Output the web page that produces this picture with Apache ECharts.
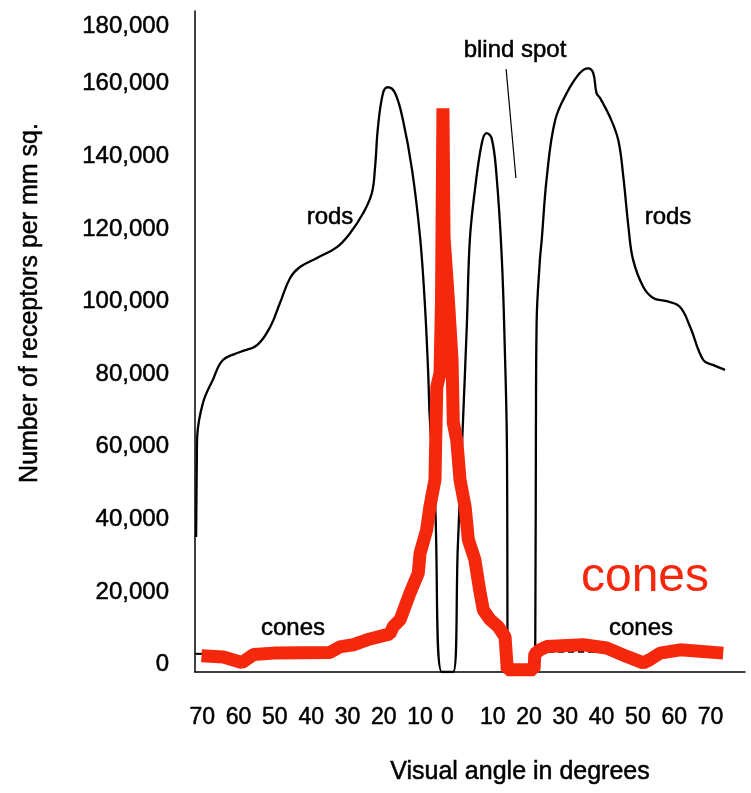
<!DOCTYPE html>
<html>
<head>
<meta charset="utf-8">
<script src="https://cdn.jsdelivr.net/npm/echarts@6/dist/echarts.min.js"></script>
<style>
  html, body { margin: 0; padding: 0; background: #fff; }
  #main { width: 751px; height: 793px; }
</style>
</head>
<body>
<div id="main"></div>
<script>
// visual angle in degrees (left side negative), density in receptors per mm sq.
var rodsAngle = [-71.7, -71.5, -71.4, -69.8, -67.1, -64.3, -59.6, -54.9, -51.3, -48.6, -45.8, -43.1, -38.4, -32.9, -29.3, -25.7,
  -23.3, -22.4, -21.6, -20.2, -18.9, -16.9, -14.7, -12.2, -10.0, -8.7, -7.8, -7.3, -5.9, -4.0, -0.9, 0.4, 1.8, 2.9, 3.7, 5.1,
  7.0, 8.3, 9.7, 11.0, 12.5, 13.4, 13.9, 14.3, 21.7, 21.9, 22.1, 23.0, 23.5, 24.9, 27.2, 30.4, 34.0, 36.3, 37.7, 38.6, 39.6,
  42.3, 44.6, 46.0, 47.4, 48.7, 51.5, 54.2, 57.9, 61.6, 64.4, 68.0, 70.8, 74.0];
var rodsDensity = [35200, 56400, 62700, 72100, 78400, 83900, 86100, 88000, 93000, 99600, 106500, 109500, 112000, 115000, 118800, 124300,
  129800, 137000, 148000, 157400, 159000, 157400, 149900, 136200, 117700, 99600, 81200, 67400, 45400, -2000, -2000, 32700, 66600, 94100, 116900, 130700,
  143600, 146400, 145000, 135400, 112200, 84700, 61900, -2000, -2000, 61900, 94100, 111400, 116900, 134200, 149900, 157400, 162900, 164200, 162900, 157400, 156000,
  150800, 144400, 134200, 120500, 111400, 104000, 101000, 100100, 98500, 93000, 83900, 82500, 81200];

var conesAngle = [-70.2, -64.2, -59.1, -55.9, -50.4, -34.8, -32.1, -28.4, -23.8, -18.3, -17.4, -15.5, -12.8, -10.5, -10.0, -8.2,
  -7.3, -5.9, -5.4, -4.5, -4.1, -3.7, -3.4, -2.2, -1.2, -0.85, 0.1, 1.0, 2.4, 3.3, 5.1, 6.4, 7.4, 9.3, 11.5, 13.4, 13.9,
  14.0, 21.4, 21.6, 23.0, 24.9, 34.9, 41.4, 46.9, 51.5, 53.3, 56.1, 61.6, 73.5];
var conesDensity = [2500, 2100, 600, 2800, 3200, 3400, 4900, 5500, 7100, 8500, 10500, 12400, 19700, 25200, 30700, 37100,
  43500, 50900, 76500, 80300, 100400, 153200, 117700, 100400, 83900, 66600, 61900, 50900, 43500, 34400, 28900, 20600, 15100, 12400, 10500, 7700, 600,
  -1400, -1400, 3000, 4100, 5000, 5500, 4600, 2300, 500, 1400, 3200, 4100, 3200];

var conesBaseRight = [[22.5, 3600], [40.0, 3600]];
var conesBaseLeft = [[-71.9, 3000], [-69.8, 3000]];
var blindSpotPointer = [[13.7, 164000], [16.4, 134000]];

var yTickValues = [0, 20000, 40000, 60000, 80000, 100000, 120000, 140000, 160000, 180000];
var xTickPos = [-70, -60, -50, -40, -30, -20, -10, -2.5, 10, 20, 30, 40, 50, 60, 70];
var xTickText = ['70', '60', '50', '40', '30', '20', '10', '0', '10', '20', '30', '40', '50', '60', '70'];

var FONT = 'Liberation Sans, Arial, Helvetica, sans-serif';
var RED = '#f5270c';

function pairs(xs, ys) {
  return xs.map(function (x, i) { return [x, ys[i]]; });
}

// scanned text looks a little heavier than plain regular
function txt(x, y, text, size, color, rot) {
  return {
    type: 'text', x: x, y: y, rotation: rot || 0,
    style: {
      text: text, font: size + 'px ' + FONT, fill: color, align: 'center', verticalAlign: 'middle',
      stroke: color, lineWidth: 0.5
    }
  };
}

var myChart = echarts.init(document.getElementById('main'));
myChart.setOption({
  animation: false,
  backgroundColor: '#fff',
  grid: { left: 195, right: 6, top: 11, bottom: 121, containLabel: false, outerBoundsMode: 'none' },
  xAxis: {
    type: 'value',
    min: -72,
    max: 79.5,
    axisLine: { show: true, onZero: false, lineStyle: { color: '#000', width: 1.5 } },
    axisTick: { show: false },
    splitLine: { show: false },
    axisLabel: {
      customValues: xTickPos,
      margin: 34,
      color: '#000',
      fontFamily: FONT,
      fontSize: 23,
      textBorderColor: '#000',
      textBorderWidth: 0.5,
      formatter: function (v) {
        var i = xTickPos.indexOf(v);
        return i >= 0 ? xTickText[i] : '';
      }
    }
  },
  yAxis: {
    type: 'value',
    min: -2000,
    max: 180000,
    axisLine: { show: true, onZero: false, lineStyle: { color: '#000', width: 1.5 } },
    axisTick: { show: false },
    splitLine: { show: false },
    axisLabel: {
      customValues: yTickValues,
      margin: 26,
      color: '#000',
      fontFamily: FONT,
      fontSize: 24,
      textBorderColor: '#000',
      textBorderWidth: 0.5,
      formatter: function (v) {
        var s = v.toLocaleString('en-US');
        return v === 180000 ? '{top|' + s + '}' : s;
      },
      rich: {
        top: { padding: [30, 0, 0, 0], fontSize: 24, fontFamily: FONT, color: '#000', textBorderColor: '#000', textBorderWidth: 0.5 }
      }
    }
  },
  series: [
    {
      name: 'rods',
      type: 'line',
      data: pairs(rodsAngle, rodsDensity),
      smooth: 0.4,
      showSymbol: false,
      symbol: 'none',
      clip: true,
      lineStyle: { color: '#000', width: 2.3 }
    },
    {
      name: 'cones base right',
      type: 'line',
      data: conesBaseRight,
      symbol: 'none',
      lineStyle: { color: '#000', width: 2, type: [6, 4] }
    },
    {
      name: 'cones base left',
      type: 'line',
      data: conesBaseLeft,
      symbol: 'none',
      lineStyle: { color: '#000', width: 2 }
    },
    {
      name: 'blind spot pointer',
      type: 'line',
      data: blindSpotPointer,
      symbol: 'none',
      lineStyle: { color: '#000', width: 1.2 }
    },
    {
      name: 'cones',
      type: 'line',
      data: pairs(conesAngle, conesDensity),
      symbol: 'none',
      clip: false,
      lineStyle: { color: RED, width: 13, join: 'bevel', cap: 'butt' }
    }
  ],
  graphic: [
    txt(30, 303, 'Number of receptors per mm sq.', 25, '#000', Math.PI / 2),
    txt(520, 772, 'Visual angle in degrees', 25, '#000'),
    txt(330, 217, 'rods', 24, '#000'),
    txt(668, 217, 'rods', 24, '#000'),
    txt(515, 50, 'blind spot', 24, '#000'),
    txt(293, 628, 'cones', 24, '#000'),
    txt(641, 628, 'cones', 24, '#000'),
    {
      type: 'text', x: 645, y: 578,
      style: { text: 'cones', font: '48px ' + FONT, fill: RED, align: 'center', verticalAlign: 'middle' }
    }
  ]
});
</script>
</body>
</html>
